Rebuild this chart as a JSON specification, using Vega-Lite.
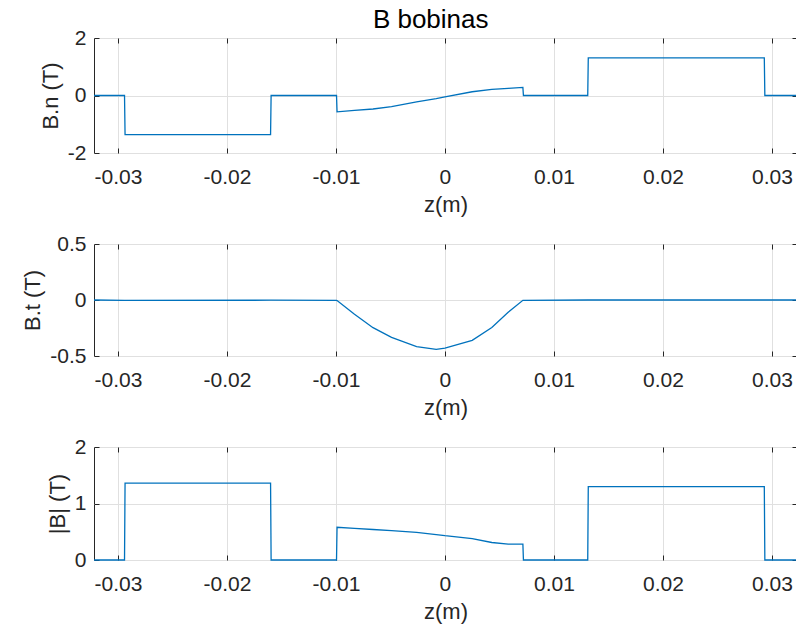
{
  "$schema": "https://vega.github.io/schema/vega-lite/v6.json",
  "background": "white",
  "padding": {"left": 21, "top": 6, "right": 1, "bottom": 5},
  "title": {"text": "B bobinas", "fontSize": 26, "font": "Liberation Sans", "fontWeight": "normal", "color": "#000000", "anchor": "middle", "offset": -6, "dx": 20},
  "data": {"values": [
    {"z": -0.0322, "bn": 0, "bt": 0, "b": 0},
    {"z": -0.0294, "bn": 0, "bt": -0.003, "b": 0},
    {"z": -0.02935, "bn": -1.36, "bt": -0.003, "b": 1.36},
    {"z": -0.016, "bn": -1.36, "bt": -0.002, "b": 1.36},
    {"z": -0.01595, "bn": 0, "bt": -0.002, "b": 0},
    {"z": -0.00995, "bn": 0, "bt": -0.003, "b": 0},
    {"z": -0.0099, "bn": -0.57, "bt": -0.005, "b": 0.58},
    {"z": -0.0083, "bn": -0.52, "bt": -0.128, "b": 0.56},
    {"z": -0.0066, "bn": -0.47, "bt": -0.247, "b": 0.54},
    {"z": -0.0049, "bn": -0.39, "bt": -0.334, "b": 0.52},
    {"z": -0.0026, "bn": -0.225, "bt": -0.417, "b": 0.49},
    {"z": -0.0008, "bn": -0.11, "bt": -0.44, "b": 0.45},
    {"z": 0, "bn": -0.05, "bt": -0.43, "b": 0.43},
    {"z": 0.0025, "bn": 0.13, "bt": -0.36, "b": 0.38},
    {"z": 0.0043, "bn": 0.21, "bt": -0.245, "b": 0.31},
    {"z": 0.0058, "bn": 0.25, "bt": -0.11, "b": 0.28},
    {"z": 0.00715, "bn": 0.28, "bt": -0.003, "b": 0.28},
    {"z": 0.0072, "bn": 0, "bt": -0.003, "b": 0},
    {"z": 0.0131, "bn": 0, "bt": 0, "b": 0},
    {"z": 0.01315, "bn": 1.31, "bt": 0, "b": 1.3},
    {"z": 0.0293, "bn": 1.31, "bt": 0, "b": 1.3},
    {"z": 0.02935, "bn": 0, "bt": 0, "b": 0},
    {"z": 0.0323, "bn": 0, "bt": 0, "b": 0}
  ]},
  "config": {
    "font": "Liberation Sans",
    "view": {"stroke": "#262626", "strokeWidth": 1},
    "axis": {
      "domain": false,
      "tickColor": "#262626",
      "tickSize": -5,
      "labelColor": "#262626",
      "labelFontSize": 21,
      "labelFont": "Liberation Sans",
      "titleFont": "Liberation Sans",
      "titleFontSize": 22,
      "titleFontWeight": "normal",
      "titleColor": "#262626",
      "gridColor": "#e0e0e0",
      "labelPadding": 18,
      "titlePadding": 7
    }
  },
  "spacing": 91,
  "bounds": "flush",
  "vconcat": [
    {
      "width": 703, "height": 115,
      "layer": [
        {"mark": {"type": "line", "color": "#0072BD", "strokeWidth": 1.3},
         "encoding": {
           "x": {"field": "z", "type": "quantitative", "scale": {"domain": [-0.0322, 0.0323], "nice": false, "zero": false},
                 "axis": {"values": [-0.03, -0.02, -0.01, 0, 0.01, 0.02, 0.03], "title": "z(m)", "orient": "bottom", "grid": true, "labelExpr": "'' + datum.value"}},
           "y": {"field": "bn", "type": "quantitative", "scale": {"domain": [-2, 2], "nice": false},
                 "axis": {"values": [-2, 0, 2], "title": "B.n (T)", "orient": "left", "grid": true, "labelExpr": "'' + datum.value", "labelPadding": 13, "titlePadding": 5}}
         }},
        {"mark": {"type": "line", "strokeOpacity": 0},
         "encoding": {
           "x": {"field": "z", "type": "quantitative", "axis": {"values": [-0.03, -0.02, -0.01, 0, 0.01, 0.02, 0.03], "title": null, "orient": "top", "grid": false, "labels": false}},
           "y": {"field": "bn", "type": "quantitative", "axis": {"values": [-2, 0, 2], "title": null, "orient": "right", "grid": false, "labels": false}}
         }}
      ],
      "resolve": {"axis": {"x": "independent", "y": "independent"}}
    },
    {
      "width": 703, "height": 112,
      "layer": [
        {"mark": {"type": "line", "color": "#0072BD", "strokeWidth": 1.3},
         "encoding": {
           "x": {"field": "z", "type": "quantitative", "scale": {"domain": [-0.0322, 0.0323], "nice": false, "zero": false},
                 "axis": {"values": [-0.03, -0.02, -0.01, 0, 0.01, 0.02, 0.03], "title": "z(m)", "orient": "bottom", "grid": true, "labelExpr": "'' + datum.value"}},
           "y": {"field": "bt", "type": "quantitative", "scale": {"domain": [-0.5, 0.5], "nice": false},
                 "axis": {"values": [-0.5, 0, 0.5], "title": "B.t (T)", "orient": "left", "grid": true, "labelExpr": "'' + datum.value", "labelPadding": 13, "titlePadding": 5}}
         }},
        {"mark": {"type": "line", "strokeOpacity": 0},
         "encoding": {
           "x": {"field": "z", "type": "quantitative", "axis": {"values": [-0.03, -0.02, -0.01, 0, 0.01, 0.02, 0.03], "title": null, "orient": "top", "grid": false, "labels": false}},
           "y": {"field": "bt", "type": "quantitative", "axis": {"values": [-0.5, 0, 0.5], "title": null, "orient": "right", "grid": false, "labels": false}}
         }}
      ],
      "resolve": {"axis": {"x": "independent", "y": "independent"}}
    },
    {
      "width": 703, "height": 113,
      "layer": [
        {"mark": {"type": "line", "color": "#0072BD", "strokeWidth": 1.3},
         "encoding": {
           "x": {"field": "z", "type": "quantitative", "scale": {"domain": [-0.0322, 0.0323], "nice": false, "zero": false},
                 "axis": {"values": [-0.03, -0.02, -0.01, 0, 0.01, 0.02, 0.03], "title": "z(m)", "orient": "bottom", "grid": true, "labelExpr": "'' + datum.value"}},
           "y": {"field": "b", "type": "quantitative", "scale": {"domain": [0, 2], "nice": false},
                 "axis": {"values": [0, 1, 2], "title": "|B| (T)", "orient": "left", "grid": true, "labelExpr": "'' + datum.value", "labelPadding": 13, "titlePadding": 5}}
         }},
        {"mark": {"type": "line", "strokeOpacity": 0},
         "encoding": {
           "x": {"field": "z", "type": "quantitative", "axis": {"values": [-0.03, -0.02, -0.01, 0, 0.01, 0.02, 0.03], "title": null, "orient": "top", "grid": false, "labels": false}},
           "y": {"field": "b", "type": "quantitative", "axis": {"values": [0, 1, 2], "title": null, "orient": "right", "grid": false, "labels": false}}
         }}
      ],
      "resolve": {"axis": {"x": "independent", "y": "independent"}}
    }
  ]
}
